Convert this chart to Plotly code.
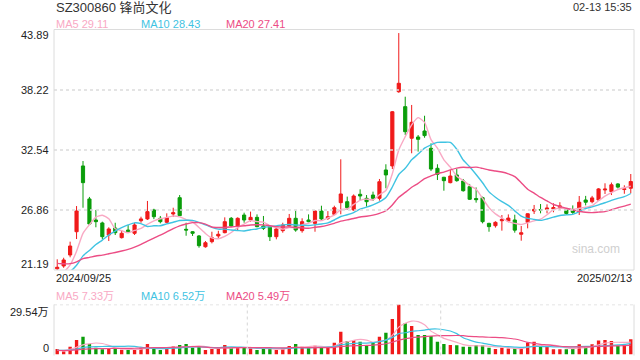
import numpy as np
import plotly.graph_objects as go

# ---------------- data ----------------
dates_first = "2024/09/25"
dates_last = "2025/02/13"

open_ = [21.30, 21.57, 22.61, 24.81, 31.03, 27.91, 25.92, 25.64, 24.50, 25.16,
         24.25, 24.97, 24.66, 25.85, 26.02, 26.87, 26.08, 25.70, 26.49, 28.03,
         25.04, 24.81, 24.41, 23.39, 23.87, 24.41, 24.72, 26.08, 25.35, 26.39,
         25.92, 26.17, 25.35, 25.29, 24.34, 24.91, 25.35, 26.08, 24.91, 25.92,
         25.60, 26.77, 26.08, 26.46, 27.56, 27.65, 26.87, 28.35, 27.97, 28.28,
         27.97, 30.65, 31.03, 38.05, 36.64, 33.65, 33.77, 34.34, 32.70, 30.81,
         29.96, 29.45, 30.18, 29.61, 29.07, 27.95, 28.03, 25.60, 25.38, 25.85,
         25.82, 25.92, 24.57, 25.70, 26.77, 26.90, 26.93, 26.95, 27.12, 26.93,
         26.87, 26.71, 27.81, 27.65, 27.81, 28.76, 28.60, 29.33, 28.80, 28.92]
high = [22.20, 22.35, 23.87, 27.24, 31.50, 28.10, 26.87, 25.76, 25.23, 25.66,
        24.97, 25.44, 25.66, 26.23, 27.72, 26.98, 26.30, 26.55, 27.08, 28.28,
        25.66, 24.87, 24.50, 23.93, 24.81, 24.90, 26.17, 26.20, 26.17, 26.61,
        26.71, 26.45, 26.30, 25.35, 25.23, 25.66, 26.49, 26.80, 26.08, 26.45,
        26.80, 27.27, 26.76, 27.27, 31.66, 28.13, 28.34, 28.82, 28.28, 28.60,
        29.80, 31.19, 36.23, 43.60, 37.58, 36.80, 33.96, 35.78, 33.17, 31.19,
        30.00, 30.65, 30.74, 29.80, 29.33, 29.00, 28.13, 25.66, 25.80, 26.39,
        26.45, 26.42, 25.35, 26.55, 27.34, 27.43, 27.40, 27.50, 27.60, 27.00,
        27.30, 28.19, 28.20, 28.20, 28.93, 29.39, 29.46, 29.40, 29.20, 30.27]
low = [21.19, 21.40, 22.39, 24.12, 27.08, 25.45, 25.23, 24.09, 23.93, 24.50,
       24.17, 24.72, 24.50, 25.66, 25.92, 26.00, 25.60, 25.60, 26.20, 26.30,
       24.43, 24.41, 23.30, 23.30, 23.71, 24.20, 24.66, 25.30, 24.97, 25.66,
       25.76, 25.23, 24.97, 23.93, 24.09, 24.72, 25.29, 24.81, 24.72, 25.70,
       24.81, 25.92, 25.92, 26.39, 26.46, 26.87, 26.80, 27.81, 27.18, 27.72,
       27.75, 28.92, 30.74, 37.95, 33.96, 32.23, 32.39, 33.70, 30.55, 29.70,
       28.69, 29.39, 29.54, 28.60, 27.81, 27.56, 25.60, 24.81, 25.20, 24.91,
       25.70, 24.72, 23.96, 25.13, 26.49, 26.55, 26.55, 26.65, 26.85, 26.40,
       26.50, 26.39, 27.30, 27.50, 27.72, 28.38, 28.28, 28.90, 28.40, 28.44]
close = [21.45, 22.14, 23.46, 26.77, 29.45, 25.54, 25.76, 24.34, 25.07, 24.72,
         24.66, 24.75, 25.45, 26.02, 26.71, 26.23, 25.76, 26.14, 26.61, 26.33,
         24.97, 24.66, 23.49, 23.77, 24.25, 24.57, 25.76, 25.35, 26.08, 25.92,
         26.17, 25.29, 25.13, 24.34, 25.07, 25.45, 26.08, 24.97, 25.76, 25.76,
         26.77, 26.02, 26.23, 27.08, 28.38, 27.08, 28.19, 28.19, 27.65, 27.97,
         29.54, 30.18, 36.16, 38.85, 34.27, 35.16, 33.55, 33.90, 30.74, 30.24,
         29.64, 30.08, 29.64, 28.69, 27.88, 27.84, 25.76, 25.29, 25.70, 25.98,
         26.10, 24.96, 24.71, 26.51, 26.92, 26.87, 27.05, 27.10, 27.25, 26.54,
         26.64, 27.60, 27.60, 28.01, 28.86, 28.84, 29.25, 29.03, 28.87, 29.56]
volume = [3.2, 1.7, 4.6, 8.6, 10.5, 6.2, 4.0, 3.1, 3.2, 3.4,
          2.8, 2.7, 3.2, 4.0, 6.2, 3.6, 2.7, 3.4, 4.8, 5.6,
          6.2, 4.0, 4.8, 2.7, 3.2, 3.6, 5.6, 4.0, 4.0, 4.0,
          3.6, 2.7, 3.4, 3.4, 2.7, 3.6, 5.0, 6.2, 4.6, 4.0,
          5.2, 4.2, 4.6, 7.0, 13.5, 8.0, 8.6, 7.6, 5.0, 7.0,
          10.5, 12.9, 21.0, 29.54, 18.4, 16.8, 11.5, 11.5, 10.9, 7.6,
          6.2, 5.6, 5.4, 4.6, 4.6, 5.6, 5.4, 4.0, 3.2, 4.0,
          3.55, 3.5, 3.5, 7.15, 7.5, 5.5, 4.5, 3.15, 3.15, 3.15,
          3.7, 6.0, 4.5, 6.1, 8.25, 8.6, 8.0, 5.2, 5.8, 9.05]
# estimated history before the first visible day (used only for moving averages)
prior_close = [23.0, 23.2, 23.3, 23.4, 23.2, 23.0, 22.8, 22.5, 22.2, 21.9,
               21.6, 21.3, 20.9, 20.6, 20.4, 20.2, 20.1, 20.3, 21.0]
prior_volume = [2.4, 2.2, 2.6, 2.3, 2.1, 2.5, 2.2, 2.0, 2.4, 2.3,
                2.1, 2.6, 2.2, 2.0, 2.3, 2.5, 2.1, 2.4, 3.0]

price_ticks = [43.89, 38.22, 32.54, 26.86, 21.19]
vol_max = 29.54

# ---------------- styles ----------------
RED = "#f01a1a"
GREEN = "#0a9d0a"
C5 = "#f9a9c4"
C10 = "#3fc3e2"
C20 = "#ec4d85"
GRID = "#dcdcdc"
FONT = "Liberation Sans, Arial, Noto Sans CJK SC"

W, H = 640, 360
L, R = 54, 634
P_TOP, P_BOT = 30, 270
V_TOP, V_BOT = 304.5, 354.5


def px(x):
    return x / W


def py(y):
    return 1 - y / H


def moving(prior, vals, n):
    arr = np.array(prior + vals, dtype=float)
    off = len(prior)
    return [float(arr[k - n + 1:k + 1].mean()) for k in range(off, len(arr))]


idx = list(range(len(close)))
ma5, ma10, ma20 = (moving(prior_close, close, n) for n in (5, 10, 20))
vma5, vma10, vma20 = (moving(prior_volume, volume, n) for n in (5, 10, 20))
vcolors = [RED if c >= o else GREEN for o, c in zip(open_, close)]

fig = go.Figure()
fig.add_trace(go.Candlestick(
    x=idx, open=open_, high=high, low=low, close=close,
    increasing=dict(line=dict(color=RED, width=1), fillcolor=RED),
    decreasing=dict(line=dict(color=GREEN, width=1), fillcolor=GREEN),
    whiskerwidth=0, hoverinfo="skip", xaxis="x", yaxis="y"))
for vals, col in ((ma5, C5), (ma10, C10), (ma20, C20)):
    fig.add_trace(go.Scatter(x=idx, y=vals, mode="lines", hoverinfo="skip",
                             line=dict(color=col, width=1.4, shape="spline", smoothing=0.6),
                             xaxis="x", yaxis="y"))
fig.add_trace(go.Bar(x=idx, y=volume, marker=dict(color=vcolors, line=dict(width=0)),
                     width=0.52, hoverinfo="skip", xaxis="x", yaxis="y2"))
for vals, col in ((vma5, C5), (vma10, C10), (vma20, C20)):
    fig.add_trace(go.Scatter(x=idx, y=vals, mode="lines", hoverinfo="skip",
                             line=dict(color=col, width=1.2, shape="spline", smoothing=0.6),
                             xaxis="x", yaxis="y2"))

shapes = []
# price panel border
shapes.append(dict(type="rect", xref="paper", yref="paper", x0=px(L), x1=px(R),
                   y0=py(P_BOT), y1=py(P_TOP - 0.5), line=dict(color=GRID, width=1)))
for t in price_ticks[1:-1]:
    shapes.append(dict(type="line", xref="x domain", yref="y", x0=0, x1=1, y0=t, y1=t,
                       line=dict(color=GRID, width=1.5, dash="dot")))
# volume panel
shapes.append(dict(type="line", xref="x domain", yref="y2", x0=0, x1=1, y0=vol_max, y1=vol_max,
                   line=dict(color=GRID, width=1.5, dash="dot")))
for xx in (0, 1):
    shapes.append(dict(type="line", xref="x domain", yref="paper", x0=xx, x1=xx,
                       y0=py(V_BOT + 1), y1=py(V_TOP), line=dict(color=GRID, width=1)))
for xx in (1 / 3, 2 / 3):
    shapes.append(dict(type="line", xref="x domain", yref="paper", x0=xx, x1=xx,
                       y0=py(V_BOT + 1), y1=py(V_TOP), line=dict(color=GRID, width=1.2, dash="dot")))

ann = []


def text(s, x, y, size=11, color="#333", xa="left", family=FONT):
    ann.append(dict(text=s, x=px(x), y=py(y), xref="paper", yref="paper", showarrow=False,
                    xanchor=xa, yanchor="middle", font=dict(size=size, color=color, family=family)))


text("SZ300860 锋尚文化", 54, 7.5, size=13, color="#333")
text("02-13 15:35", 634, 7, size=11, color="#333", xa="right")
text(f"MA5 {ma5[-1]:.2f}", 54, 24, color=C5)
text(f"MA10 {ma10[-1]:.2f}", 139, 24, color=C10)
text(f"MA20 {ma20[-1]:.2f}", 224, 24, color=C20)
label_y = [35.5, 89.5, 149.5, 209.5, 263.5]
for t, yy in zip(price_ticks, label_y):
    text(f"{t:.2f}", 51, yy, color="#222", xa="right")
text(dates_first, 54, 277.5, color="#222")
text(dates_last, 634, 277.5, color="#222", xa="right")
text(f"MA5 {vma5[-1]:.2f}万", 54, 295.5, color=C5)
text(f"MA10 {vma10[-1]:.2f}万", 139, 295.5, color=C10)
text(f"MA20 {vma20[-1]:.2f}万", 224, 295.5, color=C20)
text(f"{vol_max:.2f}万", 51, 311.5, color="#222", xa="right")
text("0", 51, 348, color="#222", xa="right")
text("sina.com", 622, 249, size=12, color="#cfcfcf", xa="right")

fig.update_layout(
    width=W, height=H, margin=dict(l=0, r=0, t=0, b=0),
    paper_bgcolor="white", plot_bgcolor="white", showlegend=False,
    xaxis=dict(domain=[px(L), px(R)], range=[-0.5, len(close) - 0.5], showticklabels=False,
               showgrid=False, zeroline=False, showline=False, ticks="",
               rangeslider=dict(visible=False), fixedrange=True, anchor="y"),
    yaxis=dict(domain=[py(P_BOT), py(P_TOP)], range=[price_ticks[-1], price_ticks[0]],
               showticklabels=False, showgrid=False, zeroline=False, showline=False,
               ticks="", fixedrange=True),
    yaxis2=dict(domain=[py(V_BOT), py(V_TOP)], range=[0, vol_max], showticklabels=False,
                showgrid=False, zeroline=False, showline=False, ticks="", fixedrange=True,
                anchor="x"),
    bargap=0.3, shapes=shapes, annotations=ann,
)
fig.write_html("out.html")
